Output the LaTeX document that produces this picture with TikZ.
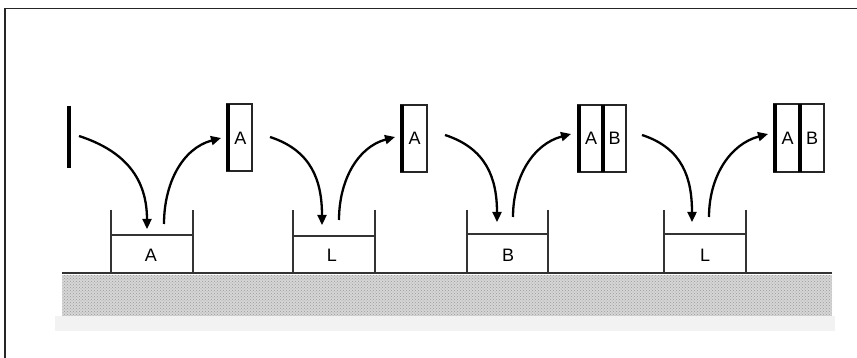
\documentclass[tikz,border=0pt]{standalone}
\usepackage{fontspec}
\setmainfont{Liberation Sans}
\usetikzlibrary{arrows.meta,patterns}
\begin{document}
\begin{tikzpicture}[x=1pt,y=-1pt,
  wall/.style={draw=black!80,line width=2pt},
  flow/.style={line width=2.3pt,-{Triangle[length=10pt,width=9pt]}},
  lbl/.style={font=\fontsize{18}{18}\selectfont,inner sep=0pt},
  slide/.style={draw=black!85,line width=2pt},
  slideedge/.style={draw=black,line width=4pt}]
\useasboundingbox (0,0) rectangle (857,358);
% frame (top and left only)
\draw[black!85,line width=1.6pt] (5,358) -- (5,8.5) -- (857,8.5);
% ground
\fill[gray!32] (62,275) rectangle (832,316);
\fill[pattern=crosshatch dots,pattern color=gray!80] (62,275) rectangle (832,316);
\fill[gray!10] (55,316) rectangle (835,331);
\draw[black!80,line width=2.6pt] (62,273) -- (832,273);
% containers: walls and liquid surface
\foreach \xl/\xr/\yl in {111/193/235,293/375/236,467/548/234,664/746/234}{
  \draw[wall] (\xl,210) -- (\xl,273);
  \draw[wall] (\xr,210) -- (\xr,273);
  \draw[wall,line width=1.7pt] (\xl,\yl) -- (\xr,\yl);
}
\node[lbl] (b1) at (151,255) {A};
\node[lbl] (b2) at (332,255) {L};
\node[lbl] (b3) at (508,255) {B};
\node[lbl] (b4) at (705,255) {L};
% bare substrate
\draw[line width=3.2pt] (69,106) -- (69,168);
% coated substrates
\draw[slide] (227,104) rectangle (252,171);
\draw[slideedge] (228,104) -- (228,171);
\node[lbl] (s1) at (240.5,138) {A};
\draw[slide] (401,105) rectangle (427,172);
\draw[slideedge] (402,105) -- (402,172);
\node[lbl] (s2) at (414.5,138) {A};
\draw[slide] (578,105) rectangle (626,172);
\draw[slideedge] (579,105) -- (579,172);
\draw[slideedge] (603,105) -- (603,172);
\node[lbl] (s3a) at (591,138) {A};
\node[lbl] (s3b) at (614.5,138) {B};
\draw[slide] (774,104) rectangle (824,172);
\draw[slideedge] (775,104) -- (775,172);
\draw[slideedge] (800,104) -- (800,172);
\node[lbl] (s4a) at (787.5,138) {A};
\node[lbl] (s4b) at (812,138) {B};
% dip-in and pull-out paths
\coordinate (i1s) at (79,136);  \coordinate (i1e) at (147,229);
\coordinate (o1s) at (164,224); \coordinate (o1e) at (221,138);
\coordinate (i2s) at (270,137); \coordinate (i2e) at (322,225);
\coordinate (o2s) at (339,220); \coordinate (o2e) at (395,137);
\coordinate (i3s) at (445,135); \coordinate (i3e) at (497,222);
\coordinate (o3s) at (513,217); \coordinate (o3e) at (571,134);
\coordinate (i4s) at (642,135); \coordinate (i4e) at (692,222);
\coordinate (o4s) at (709,217); \coordinate (o4e) at (768,134);
\foreach \n in {1,2,3,4}{
  \draw[flow] (i\n s) to[out=-18,in=90,looseness=1.1] (i\n e);
  \draw[flow] (o\n s) to[out=90,in=195,looseness=1] (o\n e);
}
\end{tikzpicture}
\end{document}
